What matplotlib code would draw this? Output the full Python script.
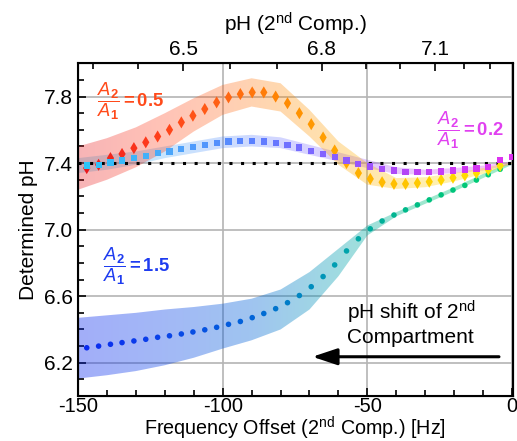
import numpy as np
import matplotlib
matplotlib.use("Agg")
import matplotlib.pyplot as plt
from matplotlib.colors import LinearSegmentedColormap, Normalize
from matplotlib.patches import PathPatch

plt.rcParams['font.family'] = ['Liberation Sans', 'DejaVu Sans']
plt.rcParams['mathtext.fontset'] = 'custom'
plt.rcParams['mathtext.rm'] = 'Liberation Sans'
plt.rcParams['mathtext.it'] = 'Liberation Sans:italic'
plt.rcParams['mathtext.bf'] = 'Liberation Sans:bold'
plt.rcParams['axes.unicode_minus'] = False

# ---------------- data ----------------
freq = [-147.0, -142.9, -138.8, -134.8, -130.7, -126.6, -122.5, -118.4, -114.3,
        -110.3, -106.2, -102.1, -98.0, -93.9, -89.8, -85.8, -81.7, -77.6, -73.5,
        -69.4, -65.3, -61.3, -57.2, -53.1, -49.0, -44.9, -40.8, -36.8, -32.7,
        -28.6, -24.5, -20.4, -16.3, -12.3, -8.2, -4.1, 0.0]

# A2/A1 = 0.5 (diamonds)
ph_05 = [7.37, 7.39, 7.43, 7.455, 7.49, 7.525, 7.56, 7.60, 7.645, 7.685, 7.725,
         7.765, 7.795, 7.815, 7.825, 7.825, 7.80, 7.76, 7.70, 7.634, 7.554, 7.476,
         7.40, 7.34, 7.305, 7.285, 7.275, 7.275, 7.28, 7.288, 7.298, 7.312, 7.326,
         7.34, 7.36, 7.384]
# A2/A1 = 0.2 (squares)
ph_02 = [7.385, 7.39, 7.404, 7.416, 7.43, 7.444, 7.46, 7.47, 7.484, 7.496, 7.508,
         7.52, 7.53, 7.534, 7.535, 7.53, 7.52, 7.51, 7.494, 7.474, 7.456, 7.436,
         7.416, 7.395, 7.38, 7.366, 7.356, 7.348, 7.346, 7.346, 7.35, 7.356, 7.362,
         7.368, 7.376, 7.42, 7.436]
# A2/A1 = 1.5 (circles)
ph_15 = [6.29, 6.30, 6.311, 6.321, 6.331, 6.341, 6.353, 6.362, 6.373, 6.385, 6.398,
         6.413, 6.431, 6.448, 6.471, 6.496, 6.525, 6.561, 6.604, 6.657, 6.718, 6.788,
         6.872, 6.945, 7.005, 7.052, 7.088, 7.119, 7.149, 7.179, 7.209, 7.238, 7.266,
         7.298, 7.33, 7.363]

band_x = [-150, -140, -130, -120, -110, -100, -90, -80, -70, -60, -50, -40, -30, -20, -10, 0]
lo_05 = [7.24, 7.30, 7.375, 7.47, 7.59, 7.69, 7.74, 7.71, 7.56, 7.39, 7.27, 7.245, 7.255, 7.29, 7.335, 7.395]
hi_05 = [7.50, 7.55, 7.615, 7.70, 7.79, 7.87, 7.91, 7.88, 7.72, 7.53, 7.40, 7.31, 7.315, 7.34, 7.37, 7.405]
lo_02 = [7.34, 7.36, 7.39, 7.43, 7.46, 7.49, 7.50, 7.49, 7.45, 7.41, 7.37, 7.335, 7.33, 7.34, 7.355, 7.39]
hi_02 = [7.43, 7.45, 7.47, 7.50, 7.53, 7.56, 7.57, 7.555, 7.51, 7.465, 7.42, 7.375, 7.36, 7.37, 7.385, 7.41]
lo_15 = [6.105, 6.125, 6.15, 6.185, 6.23, 6.285, 6.335, 6.40, 6.52, 6.72, 6.965, 7.08, 7.155, 7.23, 7.31, 7.39]
hi_15 = [6.47, 6.485, 6.50, 6.52, 6.535, 6.555, 6.585, 6.64, 6.745, 6.885, 7.025, 7.105, 7.18, 7.255, 7.335, 7.41]

ref_ph = 7.4

# top axis: pH of 2nd compartment at given frequency offsets
top_major_hz = [-113.7, -65.7, -26.6]
top_major_lab = ['6.5', '6.8', '7.1']
top_minor_hz = [-144.9, -129.4, -97.5, -81.2, -50.4, -38.7, -16.6, -7.6]

# ---------------- colours ----------------
cm_05 = LinearSegmentedColormap.from_list('c05', ['#e8141c', '#ff3c1c', '#ff6414', '#ff9000', '#ffb400', '#ffd200', '#ffe400'])
cm_02 = LinearSegmentedColormap.from_list('c02', ['#28c8f8', '#4aa8fa', '#5a80ff', '#8a5cff', '#c040f4', '#e030f0'])
cm_15 = LinearSegmentedColormap.from_list('c15', ['#0a28f0', '#0a44e8', '#0064d8', '#00a0b0', '#00c080', '#00d070'])
norm = Normalize(-150, 0)
FS = 15


def gradient_band(ax, bx, lo, hi, cmap, alpha):
    poly = ax.fill_between(bx, lo, hi, facecolor='none', edgecolor='none')
    patch = PathPatch(poly.get_paths()[0], transform=ax.transData,
                      facecolor='none', edgecolor='none')
    ax.add_patch(patch)
    grad = np.linspace(0, 1, 256).reshape(1, -1)
    im = ax.imshow(grad, extent=[-150, 0, 6, 8], aspect='auto', cmap=cmap,
                   alpha=alpha, zorder=1, origin='lower', interpolation='bilinear')
    im.set_clip_path(patch)


fig = plt.figure(figsize=(5.17, 4.41), dpi=100)
ax = fig.add_axes([0.151, 0.102, 0.841, 0.7545])

gradient_band(ax, band_x, lo_15, hi_15, cm_15, 0.38)
gradient_band(ax, band_x, lo_02, hi_02, cm_02, 0.30)
gradient_band(ax, band_x, lo_05, hi_05, cm_05, 0.32)

ax.plot([-150, 0], [ref_ph, ref_ph], color='black', lw=2.2,
        ls=(0, (1, 2.8)), zorder=3)

ax.scatter(freq[:len(ph_15)], ph_15, c=freq[:len(ph_15)], cmap=cm_15, norm=norm,
           marker='o', s=16, linewidths=0, zorder=4)
ax.scatter(freq[:len(ph_05)], ph_05, c=freq[:len(ph_05)], cmap=cm_05, norm=norm,
           marker='d', s=38, linewidths=0, zorder=4)
ax.scatter(freq[:len(ph_02)], ph_02, c=freq[:len(ph_02)], cmap=cm_02, norm=norm,
           marker='s', s=20, linewidths=0, zorder=5)

ax.set_xlim(-150, 0.3)
ax.set_ylim(6.0, 8.0)
ax.set_xticks([-150, -100, -50, 0])
ax.set_xticks(np.arange(-150, 1, 10), minor=True)
ax.set_yticks([6.2, 6.6, 7.0, 7.4, 7.8])
ax.set_yticks(np.arange(6.0, 8.01, 0.1), minor=True)
ax.grid(True, which='major', color='#b4b4b4', lw=1.2, zorder=0)
ax.set_axisbelow(True)
ax.tick_params(which='both', direction='in', labelsize=FS, width=1.2)
ax.tick_params(which='major', length=6)
ax.tick_params(which='minor', length=4)
ax.tick_params(axis='x', pad=0.5, labelsize=14.5)
ax.tick_params(axis='y', pad=4)
for s in ax.spines.values():
    s.set_linewidth(1.5)

ax.set_xlabel('Frequency Offset (2$^{\\mathrm{nd}}$ Comp.) [Hz]', fontsize=14.2, labelpad=-0.5)
ax.set_ylabel('Determined pH', fontsize=FS, labelpad=4)

ax2 = ax.twiny()
ax2.set_xlim(ax.get_xlim())
ax2.set_xticks(top_major_hz)
ax2.set_xticklabels(top_major_lab)
ax2.set_xticks(top_minor_hz, minor=True)
ax2.tick_params(which='both', direction='in', labelsize=FS, width=1.2, pad=3)
ax2.tick_params(which='major', length=6)
ax2.tick_params(which='minor', length=4)
ax2.set_xlabel('pH (2$^{\\mathrm{nd}}$ Comp.)', fontsize=FS, labelpad=6)

frac = r'$\dfrac{\mathit{A}_{\mathbf{2}}}{\mathit{A}_{\mathbf{1}}}\mathbf{= %s}$'
ax.text(-143.5, 7.775, frac % '0.5', color='#ff4a1a', fontsize=13.2,
        va='center', ha='left', zorder=6)
ax.text(-25.9, 7.60, frac % '0.2', color='#e040f0', fontsize=13.2,
        va='center', ha='left', zorder=6)
ax.text(-141.5, 6.78, frac % '1.5', color='#1e3cf0', fontsize=13.2,
        va='center', ha='left', zorder=6)

ax.text(-57, 6.50, 'pH shift of 2$^{\\mathrm{nd}}$', fontsize=FS, va='center', ha='left', zorder=6)
ax.text(-57, 6.35, 'Compartment', fontsize=FS, va='center', ha='left', zorder=6)
ax.annotate('', xy=(-69, 6.236), xytext=(-4.5, 6.236),
            arrowprops=dict(arrowstyle='-|>,head_length=1.5,head_width=0.5',
                            color='black', lw=2.2, shrinkA=0, shrinkB=0), zorder=6)

fig.savefig('out.png', dpi=100)
